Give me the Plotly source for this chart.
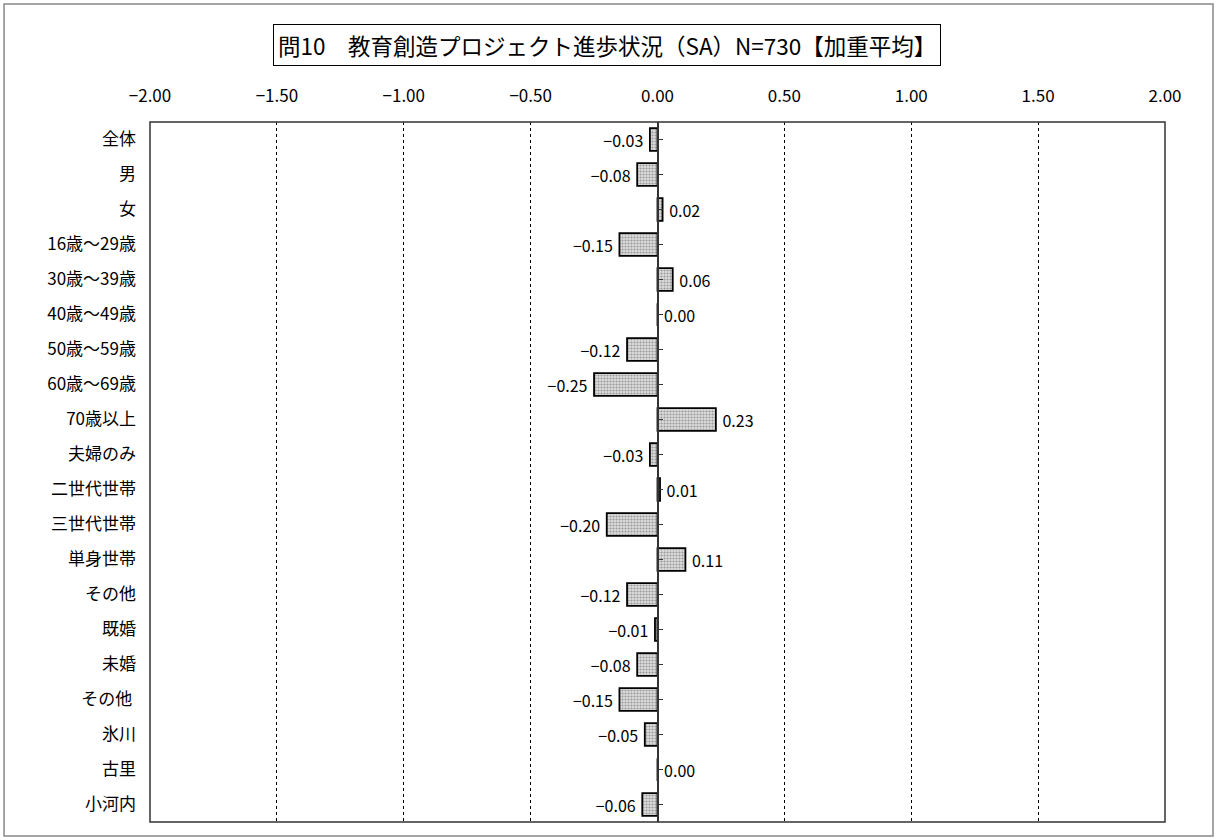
import plotly.graph_objects as go

categories = ["全体", "男", "女", "16歳～29歳", "30歳～39歳", "40歳～49歳", "50歳～59歳",
              "60歳～69歳", "70歳以上", "夫婦のみ", "二世代世帯", "三世代世帯", "単身世帯",
              "その他", "既婚", "未婚", "その他 ", "氷川", "古里", "小河内"]
values = [-0.03, -0.08, 0.02, -0.15, 0.06, 0.00, -0.12, -0.25, 0.23, -0.03, 0.01,
          -0.20, 0.11, -0.12, -0.01, -0.08, -0.15, -0.05, 0.00, -0.06]
x_ticks = [-2.0, -1.5, -1.0, -0.5, 0.0, 0.5, 1.0, 1.5, 2.0]
title = "問10　教育創造プロジェクト進歩状況（SA）N=730【加重平均】"

labels = [(" " + f"{v:.2f}") if v >= 0 else (f"{v:.2f}".replace("-", "−") + " ")
          for v in values]
FONT = "Noto Sans CJK JP"

fig = go.Figure()
fig.add_trace(go.Bar(
    x=values, y=list(range(len(categories))), orientation="h",
    text=labels, textposition="outside", cliponaxis=False, constraintext="none",
    textfont=dict(size=16, color="black", family=FONT),
    width=0.65,
    marker=dict(color="#c8c8c8", line=dict(color="black", width=1.8),
                pattern=dict(shape=".", fgcolor="#555555", bgcolor="#dcdcdc", size=3, solidity=0.4)),
))
fig.add_trace(go.Scatter(x=[None], y=[None], yaxis="y2", showlegend=False))

fig.update_layout(
    width=1216, height=840,
    margin=dict(l=150, r=51, t=122, b=18),
    paper_bgcolor="white", plot_bgcolor="white",
    showlegend=False,
    font=dict(family=FONT, color="black", size=16),
    xaxis=dict(range=[-2, 2], side="top", tickvals=x_ticks, tickformat=".2f",
               showgrid=True, gridcolor="black", griddash="dot", gridwidth=1,
               zeroline=False, ticks="", showline=False, ticklabelstandoff=16,
               tickfont=dict(size=17, family=FONT)),
    yaxis=dict(range=[len(categories) - 0.5, -0.5], tickvals=list(range(len(categories))),
               ticktext=categories, showgrid=False, zeroline=False, ticks="",
               tickfont=dict(size=17, family=FONT), ticklabelstandoff=13),
    yaxis2=dict(overlaying="y", anchor="free", position=0.5, side="left",
                range=[len(categories) - 0.5, -0.5], tickvals=list(range(len(categories))),
                tickson="boundaries", ticks="inside", ticklen=5, tickcolor="#333",
                showticklabels=False, showgrid=False, zeroline=False,
                showline=True, linecolor="#333", linewidth=1.5),
    shapes=[
        dict(type="rect", xref="paper", yref="paper", x0=0, x1=1, y0=0, y1=1,
             line=dict(color="#333", width=1.5), layer="above"),
        dict(type="rect", xref="paper", yref="paper", x0=-0.1438, x1=1.0473, y0=-0.02, y1=1.1686,
             line=dict(color="#888", width=1.5)),
    ],
    annotations=[dict(text=title, xref="paper", yref="paper", x=0.4507, y=1.11,
                      xanchor="center", yanchor="middle",
                      showarrow=False, font=dict(size=22.5, family=FONT, color="black"),
                      bordercolor="black", borderwidth=1, borderpad=4, bgcolor="white")],
)

fig.write_html("out.html", config={"displayModeBar": False},
               post_script="document.body.style.margin='0';")
